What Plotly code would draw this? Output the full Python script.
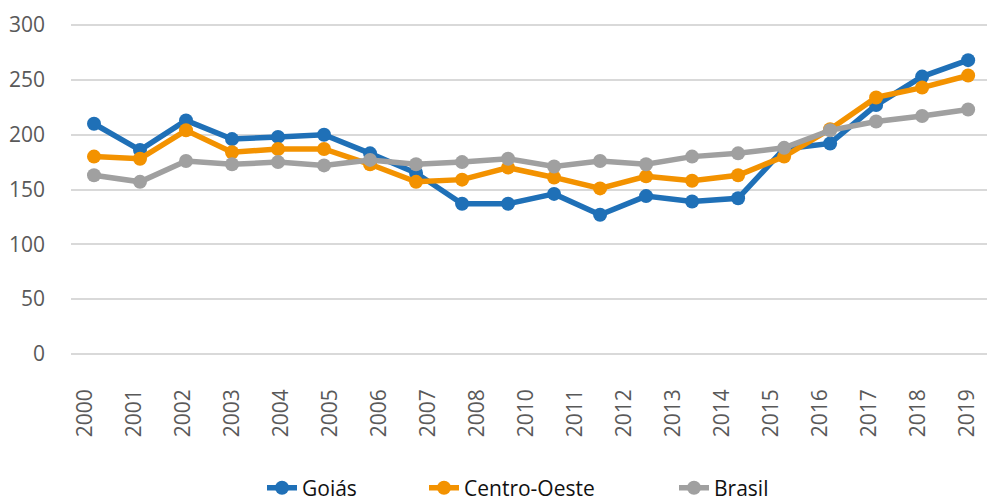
import plotly.graph_objects as go

tick_labels = ["2000", "2001", "2002", "2003", "2004", "2005", "2006", "2007", "2008",
               "2010", "2011", "2012", "2013", "2014", "2015", "2016", "2017", "2018", "2019"]
point_index = list(range(20))

goias = [210, 186, 213, 196, 198, 200, 183, 165, 137, 137, 146, 127, 144, 139, 142, 187, 192, 227, 253, 268]
centro_oeste = [180, 178, 204, 184, 187, 187, 173, 157, 159, 170, 161, 151, 162, 158, 163, 180, 205, 234, 243, 254]
brasil = [163, 157, 176, 173, 175, 172, 177, 173, 175, 178, 171, 176, 173, 180, 183, 188, 204, 212, 217, 223]

series = [("Goiás", goias, "#1F70B7", "legend"),
          ("Centro-Oeste", centro_oeste, "#F39200", "legend2"),
          ("Brasil", brasil, "#A0A0A0", "legend3")]

fig = go.Figure()
for name, vals, col, leg in series:
    fig.add_trace(go.Scatter(x=point_index, y=vals, name=name, mode="lines+markers",
                             line=dict(color=col, width=5.5),
                             marker=dict(color=col, size=14), legend=leg))

# label positions (evenly spread across 19 labels, offset from the 20 points as in the original)
n = len(tick_labels)
start, end = -0.196, 18.98
tickvals = [start + k * (end - start) / (n - 1) for k in range(n)]

font = "Open Sans, Noto Sans, sans-serif"
leg_common = dict(orientation="h", xref="container", yref="container", xanchor="left",
                  y=0.018, yanchor="middle", font=dict(size=21, color="#111111"),
                  bgcolor="rgba(0,0,0,0)")
fig.update_layout(
    width=987, height=497,
    margin=dict(l=71, r=0, t=24, b=142, autoexpand=False),
    paper_bgcolor="white", plot_bgcolor="white",
    font=dict(family=font, size=21, color="#595959"),
    showlegend=True,
    legend=dict(x=262 / 987, **leg_common),
    legend2=dict(x=424 / 987, **leg_common),
    legend3=dict(x=674 / 987, **leg_common),
    xaxis=dict(range=[-0.5, 19.41], tickmode="array", tickvals=tickvals, ticktext=tick_labels,
               tickangle=-90, showgrid=False, zeroline=False, showline=False, ticks="",
               ticklabelstandoff=29, fixedrange=True, automargin=False),
    yaxis=dict(range=[-1, 301], tickmode="array", tickvals=[0, 50, 100, 150, 200, 250, 300],
               showgrid=True, gridcolor="#D9D9D9", gridwidth=2, zeroline=False, showline=False,
               ticks="", ticklabelstandoff=25, fixedrange=True, automargin=False),
)

fig.write_html("out.html", config={"displayModeBar": False},
               post_script="document.body.style.margin='0';document.body.style.padding='0';")
